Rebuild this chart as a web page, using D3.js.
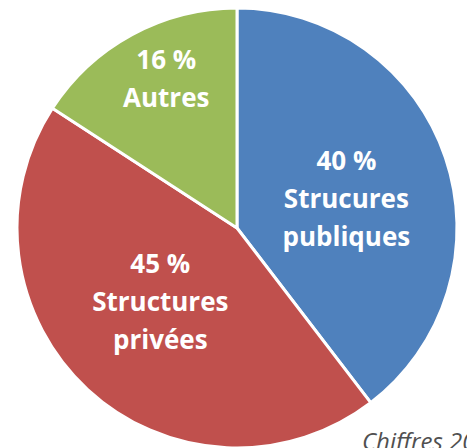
<!DOCTYPE html>
<html>
<head>
<meta charset="utf-8">
<script src="https://cdn.jsdelivr.net/npm/d3@7"></script>
<style>
  body { margin: 0; background: #fff; overflow: hidden; }
  svg { display: block; }
</style>
</head>
<body>
<div id="chart"></div>
<script>
// Data
const categories = ["Strucures publiques", "Structures privées", "Autres"];
const values = [40, 45, 16];
const labelLines = [["40 %", "Strucures", "publiques"], ["45 %", "Structures", "privées"], ["16 %", "Autres"]];
const colors = ["#4F81BD", "#C0504D", "#9BBB59"];
const note = "Chiffres 20";

const width = 467, height = 448;
const cx = 237, cy = 228, radius = 220;
// label placement: distance from centre (fraction of radius) plus a small nudge in px
const labelPos = [0.52, 0.48, 0.75];
const labelNudge = [[1, 8], [-5, -4], [8, -4]];

const svg = d3.select("#chart")
  .append("svg")
  .attr("width", width)
  .attr("height", height);

const g = svg.append("g")
  .attr("transform", `translate(${cx},${cy})`);

const pie = d3.pie().sort(null).value(d => d);
const arc = d3.arc().innerRadius(0).outerRadius(radius);
const arcs = pie(values);

g.selectAll("path")
  .data(arcs)
  .enter()
  .append("path")
  .attr("d", arc)
  .attr("fill", (d, i) => colors[i])
  .attr("stroke", "white")
  .style("stroke-width", "3px")
  .style("stroke-linejoin", "round");

// Labels
const lineH = 38;
arcs.forEach((d, i) => {
  const a = (d.startAngle + d.endAngle) / 2;
  const r = radius * labelPos[i];
  const x = Math.sin(a) * r + labelNudge[i][0];
  const y = -Math.cos(a) * r + labelNudge[i][1];
  const lines = labelLines[i];
  const text = g.append("text")
    .attr("text-anchor", "middle")
    .attr("fill", "white")
    .style("font-family", "'Open Sans', sans-serif")
    .style("font-weight", "bold")
    .style("font-size", "26px");
  lines.forEach((t, j) => {
    text.append("tspan")
      .attr("x", x)
      .attr("y", y + (j - (lines.length - 1) / 2) * lineH + 9)
      .text(t);
  });
});

svg.append("text")
  .attr("x", 362)
  .attr("y", 450)
  .attr("fill", "#505050")
  .style("font-family", "'Open Sans', sans-serif")
  .style("font-style", "italic")
  .style("font-size", "24px")
  .text(note);
</script>
</body>
</html>
